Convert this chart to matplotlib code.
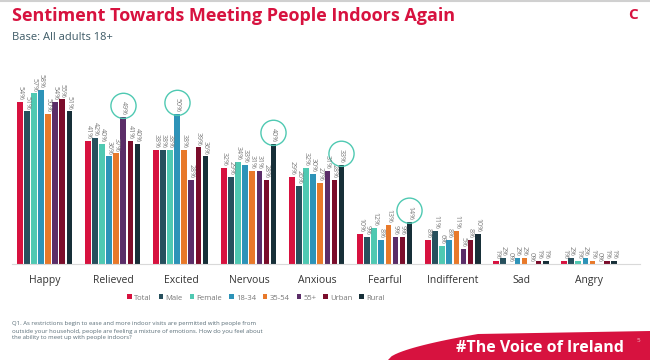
import numpy as np
import matplotlib.pyplot as plt
from matplotlib.patches import Ellipse, Polygon

# data
emotions = ['Happy', 'Relieved', 'Excited', 'Nervous', 'Anxious',
            'Fearful', 'Indifferent', 'Sad', 'Angry']
segments = ['Total', 'Male', 'Female', '18-34', '35-54', '55+', 'Urban', 'Rural']
total = [54, 41, 38, 32, 29, 10, 8, 1, 1]
male = [51, 42, 38, 29, 26, 9, 11, 2, 2]
female = [57, 40, 38, 34, 32, 12, 6, 0, 1]
age_18_34 = [58, 36, 50, 33, 30, 8, 8, 2, 2]
age_35_54 = [50, 37, 38, 31, 27, 13, 11, 2, 1]
age_55_plus = [54, 49, 28, 31, 31, 9, 5, 0, 0]
urban = [55, 41, 39, 28, 28, 9, 8, 1, 1]
rural = [51, 40, 36, 40, 33, 14, 10, 1, 1]
series = [total, male, female, age_18_34, age_35_54, age_55_plus, urban, rural]
# highlighted (emotion index, segment index)
highlights = [(1, 5), (2, 3), (3, 7), (4, 7), (5, 7)]

colors = ['#D7123F', '#27505D', '#4FC9B2', '#2D93B8', '#E8792A',
          '#5B2D68', '#7B0D2B', '#172F38']
crimson = '#D7123F'

plt.rcParams['font.family'] = ['Open Sans', 'DejaVu Sans']

fig = plt.figure(figsize=(6.5, 3.6), dpi=100)
ax = fig.add_axes([12 / 650, 96 / 360, 628 / 650, 0.52])

x = np.arange(len(emotions))
stride = 0.103
width = 0.088
for i, vals in enumerate(series):
    xs = x + (i - 3.5) * stride
    ax.bar(xs, vals, width, color=colors[i], label=segments[i])
    for xi, v in zip(xs, vals):
        ax.text(xi, v + 0.6, f'{v}%', rotation=-90, ha='center', va='bottom',
                fontsize=5, color='#7a7a7a')

for e, s in highlights:
    xc = x[e] + (s - 3.5) * stride
    v = series[s][e]
    ax.add_patch(Ellipse((xc, v + 3.8), 0.37, 8.4, fill=False,
                         edgecolor='#4FC9B2', lw=1))

ax.set_xlim(-0.485, 8.75)
ax.set_ylim(0, 62.5)
ax.set_xticks(x)
ax.set_xticklabels(emotions, fontsize=7.5, color='#333333')
ax.tick_params(axis='x', length=0, pad=8)
ax.set_yticks([])
for sp in ['top', 'right', 'left']:
    ax.spines[sp].set_visible(False)
ax.spines['bottom'].set_color('#d9d9d9')

fig.legend(loc='center', bbox_to_anchor=(256 / 650, 1 - 298 / 360), ncol=8,
           fontsize=5.5, frameon=False, handlelength=0.6, handleheight=0.6,
           handletextpad=0.3, columnspacing=0.9, labelcolor='#777777')

# header
fig.add_artist(plt.Line2D([0, 1], [0.997, 0.997], color='#d0d0d0', lw=1.5))
fig.text(12 / 650, 1 - 16 / 360, 'Sentiment Towards Meeting People Indoors Again',
         fontsize=13, fontweight='bold', color=crimson, va='center')
fig.text(12 / 650, 1 - 37 / 360, 'Base: All adults 18+', fontsize=8,
         color='#3D5A66', va='center')
fig.text(633 / 650, 1 - 15 / 360, 'C', fontsize=11, fontweight='bold',
         color=crimson, ha='center', va='center')

# footnote
fig.text(12 / 650, 1 - 331 / 360,
         'Q1. As restrictions begin to ease and more indoor visits are permitted with people from\n'
         'outside your household, people are feeling a mixture of emotions. How do you feel about\n'
         'the ability to meet up with people indoors?',
         fontsize=4.3, color='#5a6e78', va='center', linespacing=1.5)

# banner
t = np.linspace(0, 1, 40)
bx = 388 + 90 * np.sin(t * np.pi / 2)
by = 360 - 26 * np.sin(t * np.pi / 2) ** 0.6
pts = [(px / 650, 1 - py / 360) for px, py in zip(bx, by)]
pts += [(1, 1 - 331 / 360), (1, 0)]
fig.add_artist(Polygon(pts, closed=True, transform=fig.transFigure,
                       color=crimson, lw=0))
fig.text(540 / 650, 1 - 348 / 360, '#The Voice of Ireland', fontsize=11.5,
         fontweight='bold', color='white', ha='center', va='center')
fig.text(638 / 650, 1 - 341 / 360, '5', fontsize=4.5, color='#f3c6d0',
         ha='center', va='center')

fig.savefig('out.png', dpi=100)
